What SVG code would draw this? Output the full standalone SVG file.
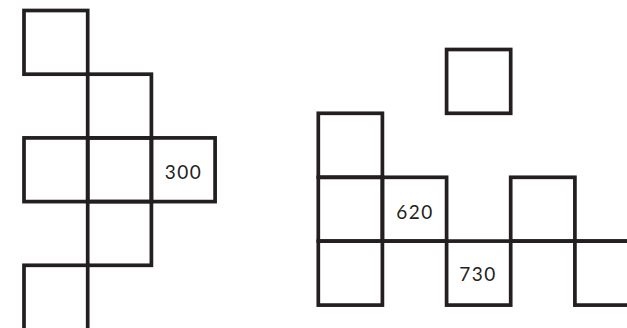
<svg xmlns="http://www.w3.org/2000/svg" width="627" height="328" viewBox="0 0 627 328">
<style>
.c{fill:none;stroke:#231f20;stroke-width:3.7}
.t{font-family:Lato,"Open Sans",sans-serif;font-size:19px;fill:#231f20;letter-spacing:1.4px}
</style>
<rect width="627" height="328" fill="#fff"/>
<g id="left">
<g id="L1"><rect class="c" x="24" y="10.5" width="63.7" height="63.7"/></g>
<g id="L2"><rect class="c" x="87.7" y="74.2" width="63.7" height="63.7"/></g>
<g id="L3"><rect class="c" x="24" y="137.9" width="63.7" height="63.7"/></g>
<g id="L4"><rect class="c" x="87.7" y="137.9" width="63.7" height="63.7"/></g>
<g id="L5"><rect class="c" x="151.4" y="137.9" width="63.7" height="63.7"/><text class="t" x="164.8" y="179">300</text></g>
<g id="L6"><rect class="c" x="87.7" y="201.6" width="63.7" height="63.7"/></g>
<g id="L7"><rect class="c" x="24" y="265.3" width="63.7" height="70"/></g>
</g>
<g id="right">
<g id="R1"><rect class="c" x="446.6" y="49.5" width="64.1" height="63.8"/></g>
<g id="R2"><rect class="c" x="318.3" y="113.3" width="64.1" height="64"/></g>
<g id="R3"><rect class="c" x="318.3" y="177.3" width="64.1" height="63.8"/></g>
<g id="R4"><rect class="c" x="382.4" y="177.3" width="64.2" height="63.8"/><text class="t" x="396.3" y="219.3">620</text></g>
<g id="R5"><rect class="c" x="510.7" y="177.3" width="64.2" height="63.8"/></g>
<g id="R6"><rect class="c" x="318.3" y="241.1" width="64.1" height="64"/></g>
<g id="R7"><rect class="c" x="446.6" y="241.1" width="64.1" height="64"/><text class="t" x="459.3" y="281">730</text></g>
<g id="R8"><rect class="c" x="574.9" y="241.1" width="64.1" height="64"/></g>
</g>
<g id="connectors">
<line class="c" x1="382.4" y1="241.1" x2="446.6" y2="241.1"/>
<line class="c" x1="510.7" y1="241.1" x2="627" y2="241.1"/>
</g>
</svg>
